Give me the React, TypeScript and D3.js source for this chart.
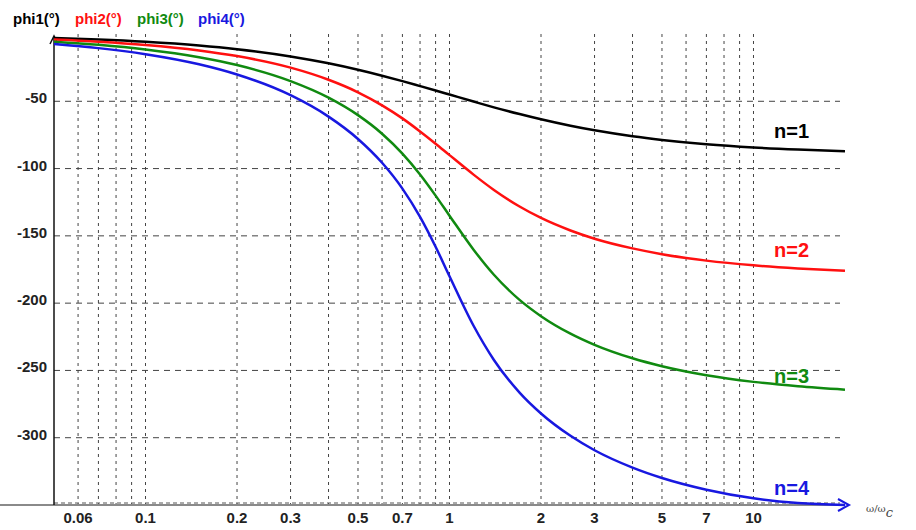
import React, { useRef, useEffect } from 'react';
import * as d3 from 'd3';

// normalised frequency w/wc
const freqs = [0.05, 0.07, 0.1, 0.15, 0.2, 0.3, 0.4, 0.5, 0.6, 0.7, 0.8, 0.9, 1, 1.2, 1.4, 1.7, 2, 2.5, 3, 4, 5, 7, 10, 14, 20];

// phase in degrees
const phi1 = [-2.9, -4, -5.7, -8.5, -11.3, -16.7, -21.8, -26.6, -31, -35, -38.7, -42, -45, -50.2, -54.5, -59.5, -63.4, -68.2, -71.6, -76, -78.7, -81.9, -84.3, -85.9, -87.1];
const phi2 = [-4.1, -5.7, -8.1, -12.2, -16.4, -25, -34, -43.3, -53, -62.7, -72.4, -81.5, -90, -104.5, -115.9, -128.2, -136.7, -146, -152.1, -159.3, -163.6, -168.4, -171.9, -174.2, -176];
const phi3 = [-5.7, -8, -11.5, -17.3, -23.1, -35, -47.3, -60.3, -74.1, -88.9, -104.4, -120.1, -135, -160.3, -178.9, -197.6, -209.7, -222.7, -231, -241, -246.9, -253.6, -258.5, -261.8, -264.3];
const phi4 = [-7.5, -10.5, -15, -22.5, -30.1, -45.5, -61.4, -78, -95.7, -114.9, -135.9, -158.1, -180, -216.8, -242.2, -266.5, -282, -298.6, -309.3, -322.2, -329.9, -338.6, -345, -348.5, -350];

const series = [
  { name: 'phi1(°)', tag: 'n=1', color: '#000000', values: phi1, legendX: 13, labelY: 138 },
  { name: 'phi2(°)', tag: 'n=2', color: '#ff1010', values: phi2, legendX: 75, labelY: 257 },
  { name: 'phi3(°)', tag: 'n=3', color: '#108a10', values: phi3, legendX: 137, labelY: 383 },
  { name: 'phi4(°)', tag: 'n=4', color: '#1818e0', values: phi4, legendX: 198, labelY: 495 },
];

const gridX = [0.06, 0.07, 0.08, 0.09, 0.1, 0.2, 0.3, 0.4, 0.5, 0.6, 0.7, 0.8, 0.9, 1, 2, 3, 4, 5, 6, 7, 8, 9, 10];
const tickX = [0.06, 0.1, 0.2, 0.3, 0.5, 0.7, 1, 2, 3, 5, 7, 10];
const tickY = [-50, -100, -150, -200, -250, -300];

const W = 916;
const H = 530;

export default function App() {
  const ref = useRef<SVGSVGElement>(null);

  useEffect(() => {
    const svg = d3.select(ref.current);
    svg.selectAll('*').remove();

    const x = d3.scaleLog().domain([0.05, 20]).range([54, 845]);
    const y = d3.scaleLinear().domain([-350, 0]).range([505, 34]);

    const font = 'Arial, "Liberation Sans", sans-serif';

    // grid
    svg.append('g')
      .selectAll('line')
      .data(gridX)
      .enter()
      .append('line')
      .attr('x1', d => x(d)).attr('x2', d => x(d))
      .attr('y1', 34).attr('y2', 505)
      .attr('stroke', '#444')
      .attr('stroke-width', 1)
      .attr('stroke-dasharray', '3,4');

    svg.append('g')
      .selectAll('line')
      .data(tickY)
      .enter()
      .append('line')
      .attr('x1', 54).attr('x2', 840)
      .attr('y1', d => y(d)).attr('y2', d => y(d))
      .attr('stroke', '#444')
      .attr('stroke-width', 1)
      .attr('stroke-dasharray', '6,5');

    // dashed line just above the x axis
    svg.append('line')
      .attr('x1', 54).attr('x2', 840)
      .attr('y1', y(-350) - 2).attr('y2', y(-350) - 2)
      .attr('stroke', '#555')
      .attr('stroke-dasharray', '4,3');

    // axes
    svg.append('line')
      .attr('x1', 0).attr('x2', 845)
      .attr('y1', y(-350)).attr('y2', y(-350))
      .attr('stroke', '#8a8a8a')
      .attr('stroke-width', 2);

    svg.append('line')
      .attr('x1', 54).attr('x2', 54)
      .attr('y1', 36).attr('y2', y(-350))
      .attr('stroke', '#111')
      .attr('stroke-width', 1.5);

    svg.append('path')
      .attr('d', 'M50,44 L54,36 L58,44')
      .attr('fill', 'none')
      .attr('stroke', '#111')
      .attr('stroke-width', 1.5);

    // curves
    const line = d3.line<number>()
      .x((d, i) => x(freqs[i]))
      .y(d => y(d))
      .curve(d3.curveMonotoneX);

    series.forEach(s => {
      svg.append('path')
        .attr('d', line(s.values))
        .attr('fill', 'none')
        .attr('stroke', s.color)
        .attr('stroke-width', 2.5);
    });

    // x axis arrow head
    svg.append('path')
      .attr('d', 'M838,499 L849,505 L838,511')
      .attr('fill', 'none')
      .attr('stroke', '#1818e0')
      .attr('stroke-width', 2);

    // tick labels
    svg.append('g')
      .selectAll('text')
      .data(tickX)
      .enter()
      .append('text')
      .attr('x', d => x(d))
      .attr('y', 523)
      .attr('text-anchor', 'middle')
      .attr('font-family', font)
      .attr('font-size', 15)
      .attr('font-weight', 'bold')
      .attr('fill', '#222')
      .text(d => String(d));

    svg.append('g')
      .selectAll('text')
      .data(tickY)
      .enter()
      .append('text')
      .attr('x', 47)
      .attr('y', d => y(d) + 2)
      .attr('text-anchor', 'end')
      .attr('font-family', font)
      .attr('font-size', 15)
      .attr('font-weight', 'bold')
      .attr('fill', '#222')
      .text(d => String(d));

    // axis title
    const xt = svg.append('text')
      .attr('x', 866)
      .attr('y', 512)
      .attr('font-family', '"DejaVu Serif", serif')
      .attr('font-size', 10)
      .attr('fill', '#444');
    xt.append('tspan').text('ω/ω');
    xt.append('tspan').attr('dy', 5).attr('font-size', 13).attr('font-style', 'italic').text('c');

    // legend
    series.forEach(s => {
      svg.append('text')
        .attr('x', s.legendX)
        .attr('y', 24)
        .attr('font-family', font)
        .attr('font-size', 15)
        .attr('font-weight', 'bold')
        .attr('fill', s.color)
        .text(s.name);
    });

    // curve tags
    series.forEach(s => {
      svg.append('text')
        .attr('x', 774)
        .attr('y', s.labelY)
        .attr('font-family', font)
        .attr('font-size', 20)
        .attr('font-weight', 'bold')
        .attr('fill', s.color)
        .text(s.tag);
    });
  }, []);

  return (
    <svg
      ref={ref}
      width={W}
      height={H}
      style={{ position: 'absolute', left: 0, top: 0, background: '#fff' }}
    />
  );
}
